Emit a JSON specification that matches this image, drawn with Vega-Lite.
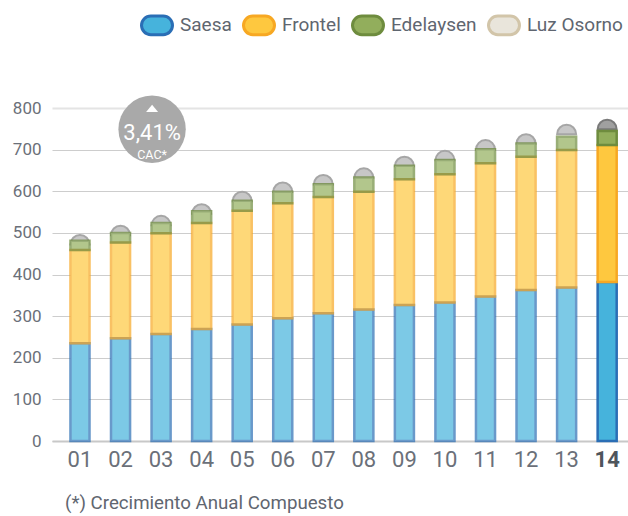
{
  "$schema": "https://vega.github.io/schema/vega-lite/v6.json",
  "width": 576,
  "height": 333,
  "autosize": "none",
  "padding": {"left": 52, "top": 108, "right": 0, "bottom": 75},
  "background": "white",
  "config": {"view": {"stroke": null}, "font": "Roboto"},
  "title": {
    "text": "(*) Crecimiento Anual Compuesto",
    "orient": "bottom", "anchor": "start", "frame": "group",
    "offset": 24, "dx": 13,
    "font": "Roboto", "fontSize": 18.7, "fontWeight": "normal", "color": "#5f6670"
  },
  "datasets": {
    "energy": [
      {"year": "01", "series": "Saesa", "rank": 1, "value": 235},
      {"year": "01", "series": "Frontel", "rank": 2, "value": 224},
      {"year": "01", "series": "Edelaysen", "rank": 3, "value": 22},
      {"year": "01", "series": "Luz Osorno", "rank": 4, "value": 14},
      {"year": "02", "series": "Saesa", "rank": 1, "value": 247},
      {"year": "02", "series": "Frontel", "rank": 2, "value": 230},
      {"year": "02", "series": "Edelaysen", "rank": 3, "value": 23},
      {"year": "02", "series": "Luz Osorno", "rank": 4, "value": 17},
      {"year": "03", "series": "Saesa", "rank": 1, "value": 257},
      {"year": "03", "series": "Frontel", "rank": 2, "value": 242},
      {"year": "03", "series": "Edelaysen", "rank": 3, "value": 25},
      {"year": "03", "series": "Luz Osorno", "rank": 4, "value": 17},
      {"year": "04", "series": "Saesa", "rank": 1, "value": 269},
      {"year": "04", "series": "Frontel", "rank": 2, "value": 255},
      {"year": "04", "series": "Edelaysen", "rank": 3, "value": 28},
      {"year": "04", "series": "Luz Osorno", "rank": 4, "value": 17},
      {"year": "05", "series": "Saesa", "rank": 1, "value": 280},
      {"year": "05", "series": "Frontel", "rank": 2, "value": 273},
      {"year": "05", "series": "Edelaysen", "rank": 3, "value": 24},
      {"year": "05", "series": "Luz Osorno", "rank": 4, "value": 22},
      {"year": "06", "series": "Saesa", "rank": 1, "value": 295},
      {"year": "06", "series": "Frontel", "rank": 2, "value": 276},
      {"year": "06", "series": "Edelaysen", "rank": 3, "value": 28},
      {"year": "06", "series": "Luz Osorno", "rank": 4, "value": 22},
      {"year": "07", "series": "Saesa", "rank": 1, "value": 307},
      {"year": "07", "series": "Frontel", "rank": 2, "value": 279},
      {"year": "07", "series": "Edelaysen", "rank": 3, "value": 31},
      {"year": "07", "series": "Luz Osorno", "rank": 4, "value": 22},
      {"year": "08", "series": "Saesa", "rank": 1, "value": 316},
      {"year": "08", "series": "Frontel", "rank": 2, "value": 283},
      {"year": "08", "series": "Edelaysen", "rank": 3, "value": 34},
      {"year": "08", "series": "Luz Osorno", "rank": 4, "value": 22},
      {"year": "09", "series": "Saesa", "rank": 1, "value": 327},
      {"year": "09", "series": "Frontel", "rank": 2, "value": 302},
      {"year": "09", "series": "Edelaysen", "rank": 3, "value": 32},
      {"year": "09", "series": "Luz Osorno", "rank": 4, "value": 22},
      {"year": "10", "series": "Saesa", "rank": 1, "value": 333},
      {"year": "10", "series": "Frontel", "rank": 2, "value": 308},
      {"year": "10", "series": "Edelaysen", "rank": 3, "value": 34},
      {"year": "10", "series": "Luz Osorno", "rank": 4, "value": 22},
      {"year": "11", "series": "Saesa", "rank": 1, "value": 347},
      {"year": "11", "series": "Frontel", "rank": 2, "value": 320},
      {"year": "11", "series": "Edelaysen", "rank": 3, "value": 34},
      {"year": "11", "series": "Luz Osorno", "rank": 4, "value": 22},
      {"year": "12", "series": "Saesa", "rank": 1, "value": 363},
      {"year": "12", "series": "Frontel", "rank": 2, "value": 320},
      {"year": "12", "series": "Edelaysen", "rank": 3, "value": 32},
      {"year": "12", "series": "Luz Osorno", "rank": 4, "value": 22},
      {"year": "13", "series": "Saesa", "rank": 1, "value": 369},
      {"year": "13", "series": "Frontel", "rank": 2, "value": 330},
      {"year": "13", "series": "Edelaysen", "rank": 3, "value": 32},
      {"year": "13", "series": "Luz Osorno", "rank": 4, "value": 29},
      {"year": "14", "series": "Saesa", "rank": 1, "value": 382},
      {"year": "14", "series": "Frontel", "rank": 2, "value": 329},
      {"year": "14", "series": "Edelaysen", "rank": 3, "value": 34},
      {"year": "14", "series": "Luz Osorno", "rank": 4, "value": 27}
    ]
  },
  "layer": [
    {
      "data": {"name": "energy"},
      "transform": [
        {"stack": "value", "groupby": ["year"], "sort": [{"field": "rank", "order": "ascending"}], "as": ["v0", "v1"]},
        {"filter": "datum.series === 'Luz Osorno'"}
      ],
      "mark": {"type": "point", "shape": "M-1,1A1,1 0 0 1 1,1Z", "size": 361, "filled": true, "opacity": 1, "strokeWidth": 2},
      "encoding": {
        "x": {
          "field": "year", "type": "ordinal",
          "scale": {"type": "band", "paddingInner": 0.53, "paddingOuter": 0.367, "align": 0.62},
          "axis": {
            "title": null, "ticks": false, "grid": false, "labelAngle": 0,
            "domain": true, "domainColor": "#c8c8c8", "domainWidth": 2,
            "labelFont": "Roboto", "labelFontSize": 22, "labelPadding": 8,
            "labelColor": {"condition": {"test": "datum.value === '14'", "value": "#4f555c"}, "value": "#6b7079"},
            "labelFontWeight": {"condition": {"test": "datum.value === '14'", "value": "bold"}, "value": "normal"}
          }
        },
        "y": {
          "field": "v1", "type": "quantitative",
          "scale": {"domain": [0, 800], "nice": false},
          "axis": {
            "title": null, "ticks": false, "domain": false,
            "values": [0, 100, 200, 300, 400, 500, 600, 700, 800],
            "labelFont": "Roboto", "labelFontSize": 17, "labelPadding": 11, "labelColor": "#6b7079",
            "gridColor": {"condition": {"test": "datum.value === 800", "value": "#e4e4e4"}, "value": "#cdcdcd"},
            "gridWidth": {"condition": {"test": "datum.value === 800", "value": 2}, "value": 1}
          }
        },
        "fill": {"condition": {"test": "datum.year === '14'", "value": "#a0a0a0"}, "value": "#c7c7c7"},
        "stroke": {"condition": {"test": "datum.year === '14'", "value": "#7a7a7a"}, "value": "#a6a6a6"}
      }
    },
    {
      "data": {"name": "energy"},
      "transform": [
        {"stack": "value", "groupby": ["year"], "sort": [{"field": "rank", "order": "ascending"}], "as": ["v0", "v1"]},
        {"filter": "datum.series !== 'Luz Osorno'"}
      ],
      "mark": {"type": "bar", "color": "white", "opacity": 1},
      "encoding": {
        "x": {"field": "year", "type": "ordinal"},
        "y": {"field": "v1", "type": "quantitative"},
        "y2": {"field": "v0"}
      }
    },
    {
      "data": {"name": "energy"},
      "transform": [
        {"stack": "value", "groupby": ["year"], "sort": [{"field": "rank", "order": "ascending"}], "as": ["v0", "v1"]},
        {"filter": "datum.series !== 'Luz Osorno'"}
      ],
      "mark": {"type": "bar", "strokeWidth": 2.5},
      "encoding": {
        "x": {"field": "year", "type": "ordinal"},
        "y": {"field": "v1", "type": "quantitative"},
        "y2": {"field": "v0"},
        "color": {
          "field": "series", "type": "nominal",
          "scale": {"domain": ["Saesa", "Frontel", "Edelaysen", "Luz Osorno"], "range": ["#46b3dc", "#fec83f", "#92ae5c", "#e9e5db"]},
          "legend": {
            "title": null, "orient": "none", "direction": "horizontal",
            "legendX": 88, "legendY": -100, "padding": 0,
            "symbolType": "M-0.4,-0.6L0.4,-0.6A0.6,0.6 0 0 1 0.4,0.6L-0.4,0.6A0.6,0.6 0 0 1 -0.4,-0.6Z",
            "symbolSize": 961, "symbolStrokeWidth": 3, "symbolOpacity": 1,
            "labelFont": "Roboto", "labelFontSize": 19, "labelColor": "#5f6670",
            "labelOffset": 6, "columnPadding": 5
          }
        },
        "stroke": {
          "field": "series", "type": "nominal",
          "scale": {"domain": ["Saesa", "Frontel", "Edelaysen", "Luz Osorno"], "range": ["#2a6eb5", "#f7a823", "#6e8c3e", "#d2c5a9"]},
          "legend": {
            "title": null, "orient": "none", "direction": "horizontal",
            "legendX": 88, "legendY": -100, "padding": 0,
            "symbolType": "M-0.4,-0.6L0.4,-0.6A0.6,0.6 0 0 1 0.4,0.6L-0.4,0.6A0.6,0.6 0 0 1 -0.4,-0.6Z",
            "symbolSize": 961, "symbolStrokeWidth": 3, "symbolOpacity": 1,
            "labelFont": "Roboto", "labelFontSize": 19, "labelColor": "#5f6670",
            "labelOffset": 6, "columnPadding": 5
          }
        },
        "opacity": {"condition": {"test": "datum.year === '14'", "value": 1}, "value": 0.7}
      }
    },
    {
      "data": {"values": [{"year": "03", "y": 749}]},
      "mark": {"type": "point", "shape": "circle", "size": 4536, "filled": true, "color": "#a9a9a9", "opacity": 1, "xOffset": -9},
      "encoding": {
        "x": {"field": "year", "type": "ordinal"},
        "y": {"field": "y", "type": "quantitative"}
      }
    },
    {
      "data": {"values": [{"year": "03", "y": 799}]},
      "mark": {"type": "point", "shape": "M0,-0.6L1,0.6L-1,0.6Z", "size": 144, "filled": true, "color": "white", "opacity": 1, "xOffset": -9},
      "encoding": {
        "x": {"field": "year", "type": "ordinal"},
        "y": {"field": "y", "type": "quantitative"}
      }
    },
    {
      "data": {"values": [{"year": "03", "y": 740, "label": "3,41%"}]},
      "mark": {"type": "text", "font": "Roboto", "fontSize": 22, "color": "white", "align": "center", "baseline": "middle", "xOffset": -9},
      "encoding": {
        "x": {"field": "year", "type": "ordinal"},
        "y": {"field": "y", "type": "quantitative"},
        "text": {"field": "label"}
      }
    },
    {
      "data": {"values": [{"year": "03", "y": 688, "label": "CAC*"}]},
      "mark": {"type": "text", "font": "Roboto", "fontSize": 12.5, "color": "white", "align": "center", "baseline": "middle", "xOffset": -9},
      "encoding": {
        "x": {"field": "year", "type": "ordinal"},
        "y": {"field": "y", "type": "quantitative"},
        "text": {"field": "label"}
      }
    }
  ]
}
